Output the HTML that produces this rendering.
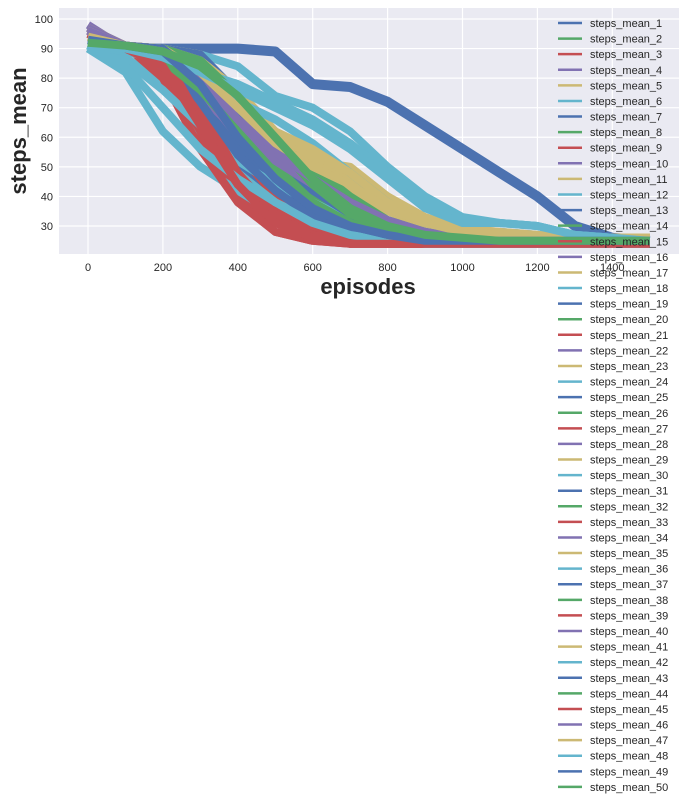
<!DOCTYPE html>
<html><head><meta charset="utf-8">
<style>
html,body{margin:0;padding:0;background:#fff;width:686px;height:805px;overflow:hidden;font-family:"Liberation Sans",Arial,sans-serif}
svg{display:block}
</style></head>
<body>
<svg id="chart" width="686" height="805" viewBox="0 0 686 805" xmlns="http://www.w3.org/2000/svg">
<defs><clipPath id="pc"><rect x="59" y="8" width="620" height="246"/></clipPath></defs>
<rect x="59" y="8" width="620" height="246" fill="#EAEAF2"/>
<g id="grid"></g>
<g id="series" clip-path="url(#pc)"></g>
<g id="ticks"></g>
<text x="368" y="294" text-anchor="middle" font-size="22" font-weight="bold" fill="#262626">episodes</text>
<text transform="translate(26,131) rotate(-90)" text-anchor="middle" font-size="22" font-weight="bold" fill="#262626">steps_mean</text>
<g id="legend"></g>
</svg>
<script>
const episodes=[0,100,200,300,400,500,600,700,800,900,1000,1100,1200,1300,1400,1500];
const xTicks=[0,200,400,600,800,1000,1200,1400];
const yTicks=[30,40,50,60,70,80,90,100];
const palette=["#4C72B0","#55A868","#C44E52","#8172B2","#CCB974","#64B5CD"];
const s1=[92,90,90,90,90,89,78,77,72,64,56,48,40,30,26,25];
const s2=[92,90,88,80,62,45,35,30,27,26,25,25,25,25,25,25];
const s3=[95,91,82,60,40,28,25,24,24,24,24,24,24,24,24,24];
const s4=[98,90,85,70,55,42,33,28,26,25,25,25,25,25,25,25];
const s5=[96,91,90,85,65,55,52,50,40,32,28,27,26,26,26,26];
const s6=[90,82,62,50,42,34,28,25,24,24,24,24,24,24,24,24];
const s7=[93,91,90,75,50,40,33,28,26,25,25,25,25,25,25,25];
const s8=[92,90,89,82,68,50,38,30,27,26,25,25,25,25,25,25];
const s9=[96,90,88,65,48,35,28,25,24,24,24,24,24,24,24,24];
const s10=[95,91,90,80,62,52,42,35,30,27,26,25,25,25,25,25];
const s11=[97,91,88,78,60,48,40,34,30,28,27,26,26,25,25,25];
const s12=[91,90,90,88,84,74,70,62,50,40,33,31,30,27,26,25];
const s13=[93,91,85,68,52,40,32,28,26,25,25,25,25,25,25,25];
const s14=[92,90,87,80,70,55,42,33,28,26,25,25,25,25,25,25];
const s15=[95,91,86,72,55,40,30,26,24,24,24,24,24,24,24,24];
const s16=[96,90,84,70,58,48,40,33,28,26,25,25,25,25,25,25];
const s17=[94,91,90,88,72,58,50,42,35,30,28,27,26,26,26,26];
const s18=[91,87,78,62,48,38,32,28,26,25,25,25,25,25,25,25];
const s19=[93,91,90,88,75,60,45,35,29,26,25,25,25,25,25,25];
const s20=[92,91,89,84,74,62,50,40,32,28,26,25,25,25,25,25];
const s21=[96,91,84,62,44,32,26,24,24,24,24,24,24,24,24,24];
const s22=[97,90,86,74,60,50,42,36,30,27,26,25,25,25,25,25];
const s23=[95,91,90,86,76,62,52,46,38,32,28,27,26,26,26,26];
const s24=[91,90,90,82,78,72,66,58,48,38,32,31,30,27,26,25];
const s25=[92,90,86,72,56,44,34,29,26,25,25,25,25,25,25,25];
const s26=[92,91,88,78,64,50,40,32,28,26,25,25,25,25,25,25];
const s27=[95,91,80,56,38,28,25,24,24,24,24,24,24,24,24,24];
const s28=[96,91,88,76,62,54,46,38,32,28,26,25,25,25,25,25];
const s29=[97,91,89,80,68,58,50,44,36,31,28,27,26,26,26,26];
const s30=[90,86,76,64,52,44,38,32,28,26,25,25,25,25,25,25];
const s31=[93,91,90,84,68,54,42,34,28,26,25,25,25,25,25,25];
const s32=[92,90,88,82,72,60,48,38,30,27,26,25,25,25,25,25];
const s33=[95,91,90,70,48,34,27,25,24,24,24,24,24,24,24,24];
const s34=[96,90,85,74,62,52,44,36,30,27,26,25,25,25,25,25];
const s35=[94,91,90,84,70,60,54,48,40,33,29,28,27,26,26,26];
const s36=[91,89,86,80,72,66,58,48,38,31,28,28,27,26,25,25];
const s37=[93,91,88,72,54,42,33,28,26,25,25,25,25,25,25,25];
const s38=[92,91,90,86,74,58,44,34,29,26,25,25,25,25,25,25];
const s39=[95,91,88,66,46,33,27,24,24,24,24,24,24,24,24,24];
const s40=[97,91,87,76,64,55,46,38,31,28,26,25,25,25,25,25];
const s41=[96,91,90,82,70,62,56,48,38,32,29,28,27,26,26,26];
const s42=[91,84,70,56,46,38,31,27,25,24,24,24,24,24,24,24];
const s43=[93,91,90,80,60,46,36,30,27,25,25,25,25,25,25,25];
const s44=[92,90,86,76,62,48,38,31,27,26,25,25,25,25,25,25];
const s45=[95,90,84,64,44,31,26,24,24,24,24,24,24,24,24,24];
const s46=[96,91,89,80,66,56,46,38,31,28,26,25,25,25,25,25];
const s47=[94,91,89,82,70,58,50,44,36,31,28,27,26,26,26,26];
const s48=[91,90,87,82,76,70,64,56,46,36,31,31,30,27,26,25];
const s49=[93,91,89,78,60,46,36,30,27,25,25,25,25,25,25,25];
const s50=[92,91,89,84,74,60,46,36,30,27,26,25,25,25,25,25];
const allSeries=[s1,s2,s3,s4,s5,s6,s7,s8,s9,s10,s11,s12,s13,s14,s15,s16,s17,s18,s19,s20,s21,s22,s23,s24,s25,s26,s27,s28,s29,s30,s31,s32,s33,s34,s35,s36,s37,s38,s39,s40,s41,s42,s43,s44,s45,s46,s47,s48,s49,s50];

const NS="http://www.w3.org/2000/svg";
function xScale(e){return 88+e*0.3745;}
function yScale(v){return 19+(100-v)*2.957;}
const grid=document.getElementById('grid');
const ticks=document.getElementById('ticks');
xTicks.forEach(t=>{
  const l=document.createElementNS(NS,'line');
  
  
  l.setAttribute('x1',xScale(t));l.setAttribute('x2',xScale(t));
  l.setAttribute('y1',8);l.setAttribute('y2',254);
  l.setAttribute('stroke','#fff');l.setAttribute('stroke-width','1.2');
  grid.appendChild(l);
  const tx=document.createElementNS(NS,'text');
  
  
  tx.setAttribute('x',xScale(t));tx.setAttribute('y',271);
  tx.setAttribute('text-anchor','middle');tx.setAttribute('font-size','11');tx.setAttribute('fill','#262626');
  tx.textContent=t;ticks.appendChild(tx);
});
yTicks.forEach(t=>{
  const l=document.createElementNS(NS,'line');
  
  
  l.setAttribute('x1',59);l.setAttribute('x2',679);
  l.setAttribute('y1',yScale(t));l.setAttribute('y2',yScale(t));
  l.setAttribute('stroke','#fff');l.setAttribute('stroke-width','1.2');
  grid.appendChild(l);
  const tx=document.createElementNS(NS,'text');
  
  
  tx.setAttribute('x',53);tx.setAttribute('y',yScale(t)+4);
  tx.setAttribute('text-anchor','end');tx.setAttribute('font-size','11');tx.setAttribute('fill','#262626');
  tx.textContent=t;ticks.appendChild(tx);
});
const sg=document.getElementById('series');
const lg=document.getElementById('legend');
allSeries.forEach((s,i)=>{
  const c=palette[i%6];
  const p=document.createElementNS(NS,'polyline');
  
  
  p.setAttribute('points',s.map((v,j)=>xScale(episodes[j]).toFixed(1)+','+yScale(v).toFixed(1)).join(' '));
  p.setAttribute('fill','none');p.setAttribute('stroke',c);
  p.setAttribute('stroke-width',i===0?'10':'8');p.setAttribute('stroke-linejoin','round');
  sg.appendChild(p);
  const y=23+i*15.59;
  const ll=document.createElementNS(NS,'line');
  
  
  ll.setAttribute('x1',558);ll.setAttribute('x2',582);ll.setAttribute('y1',y);ll.setAttribute('y2',y);
  ll.setAttribute('stroke',c);ll.setAttribute('stroke-width','2.5');
  lg.appendChild(ll);
  const lt=document.createElementNS(NS,'text');
  
  
  lt.setAttribute('x',590);lt.setAttribute('y',y+4);
  lt.setAttribute('font-size','11');lt.setAttribute('fill','#262626');
  lt.textContent='steps_mean_'+(i+1);
  lg.appendChild(lt);
});
</script>
</body></html>
